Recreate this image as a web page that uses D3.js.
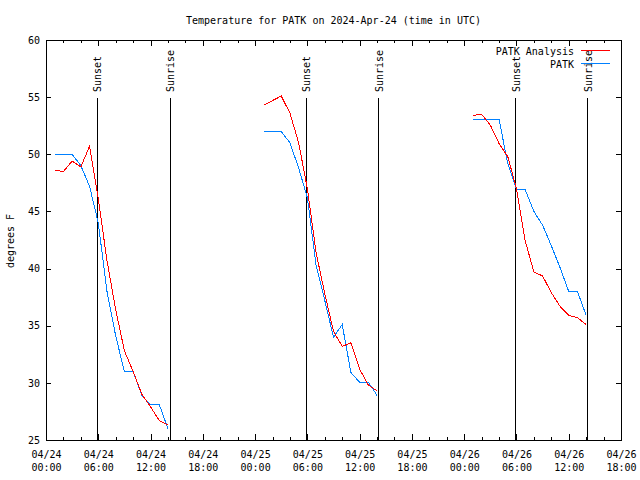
<!DOCTYPE html>
<html>
<head>
<meta charset="utf-8">
<script src="https://cdn.jsdelivr.net/npm/d3@7"></script>
<style>
  html, body { margin: 0; padding: 0; background: #fff; }
  svg { display: block; }
  text { font-family: "DejaVu Sans Mono", "Liberation Mono", monospace; font-size: 10px; fill: #000; }
</style>
</head>
<body>
<svg id="chart" width="640" height="480"></svg>
<script>
// ---- data (hours since 2024-04-24 00:00 UTC) ----
const day1Hours = [1,2,3,4,5,6,7,8,9,10,11,12,13,14];
const day2Hours = [25,26,27,28,29,30,31,32,33,34,35,36,37,38];
const day3Hours = [49,50,51,52,53,54,55,56,57,58,59,60,61,62];

const analysisDay1 = [48.6,48.5,49.4,48.9,50.7,46.1,40.7,36.4,32.8,31.0,29.0,27.9,26.7,26.3];
const analysisDay2 = [54.3,54.7,55.1,53.6,51.0,47.0,41.4,37.8,34.5,33.2,33.5,31.2,29.8,29.3];
const analysisDay3 = [53.4,53.5,52.55,50.95,49.8,47.0,42.45,39.7,39.35,37.9,36.7,35.9,35.7,35.1];

const obsDay1 = [50.0,50.0,50.0,49.0,47.2,44.0,38.0,34.1,31.0,31.0,28.9,28.1,28.1,26.0];
const obsDay2 = [52.0,52.0,52.0,51.0,48.8,46.2,40.3,37.2,34.0,35.1,30.9,30.05,30.05,28.9];
const obsDay3 = [53.06,53.06,53.06,53.06,49.2,46.9,46.9,45.0,43.8,42.0,40.1,38.0,38.0,35.9];

const sunsetHours = [5.82, 29.8, 53.85];
const sunriseHours = [14.23, 38.14, 62.1];

const yTicks = [25,30,35,40,45,50,55,60];
const xMajorHours = [0,6,12,18,24,30,36,42,48,54,60,66];
const xMinorHours = d3.range(0, 67, 2);

const seriesNames = ["PATK Analysis", "PATK"];
const seriesColors = ["#ff0000", "#0080ff"];
const titleText = "Temperature for PATK on 2024-Apr-24 (time in UTC)";
const yLabelText = "degrees F";

// ---- setup ----
const t0 = Date.UTC(2024, 3, 24, 0, 0);
const hr = h => new Date(t0 + h * 3600 * 1000);

const L = 46, R = 621, T = 40, B = 440;
const svg = d3.select("#chart");

const x = d3.scaleUtc().domain([hr(0), hr(66)]).range([L, R]);
const y = d3.scaleLinear().domain([25, 60]).range([B, T]);

// title
svg.append("text").attr("x", (L + R) / 2).attr("y", 23.5)
  .attr("text-anchor", "middle").text(titleText);

// y label
svg.append("text").attr("transform", `translate(13.5,241) rotate(-90)`)
  .attr("text-anchor", "middle").text(yLabelText);

// axes
const g = svg.append("g").attr("shape-rendering", "crispEdges");

// bottom major
const bottomAxis = g.append("g").attr("transform", `translate(0,${B})`)
  .call(d3.axisBottom(x).tickValues(xMajorHours.map(hr)).tickSize(-6).tickFormat(""));
bottomAxis.selectAll(".tick").each(function(d) {
  const t = d3.select(this).select("text");
  t.attr("y", null).attr("dy", null);
  t.append("tspan").attr("x", 0).attr("y", 18).text(d3.utcFormat("%m/%d")(d));
  t.append("tspan").attr("x", 0).attr("y", 31).text(d3.utcFormat("%H:%M")(d));
});
// bottom minor
g.append("g").attr("transform", `translate(0,${B})`)
  .call(d3.axisBottom(x).tickValues(xMinorHours.map(hr)).tickSize(-3).tickFormat(""));
// top major/minor
g.append("g").attr("transform", `translate(0,${T})`)
  .call(d3.axisTop(x).tickValues(xMajorHours.map(hr)).tickSize(-6).tickFormat(""));
g.append("g").attr("transform", `translate(0,${T})`)
  .call(d3.axisTop(x).tickValues(xMinorHours.map(hr)).tickSize(-3).tickFormat(""));
// left
g.append("g").attr("transform", `translate(${L},0)`)
  .call(d3.axisLeft(y).tickValues(yTicks).tickSize(-5).tickPadding(6).tickFormat(d3.format("d")));
// right
g.append("g").attr("transform", `translate(${R},0)`)
  .call(d3.axisRight(y).tickValues(yTicks).tickSize(-5).tickFormat(""));

svg.selectAll(".domain").remove();
svg.selectAll(".tick line").attr("stroke", "#000");
svg.selectAll(".tick text").attr("fill", "#000")
  .style("font-family", '"DejaVu Sans Mono", monospace').style("font-size", "10px");

// frame
g.append("rect").attr("x", L + 0.5).attr("y", T + 0.5)
  .attr("width", R - L).attr("height", B - T)
  .attr("fill", "none").attr("stroke", "#000");

// sun lines
const sunEvents = [];
sunsetHours.forEach(h => sunEvents.push({h, label: "Sunset"}));
sunriseHours.forEach(h => sunEvents.push({h, label: "Sunrise"}));
const sun = svg.append("g");
sun.selectAll("line").data(sunEvents).join("line")
  .attr("shape-rendering", "crispEdges")
  .attr("x1", d => Math.round(x(hr(d.h))) + 0.5).attr("x2", d => Math.round(x(hr(d.h))) + 0.5)
  .attr("y1", 98).attr("y2", B)
  .attr("stroke", "#000");
sun.selectAll("text").data(sunEvents).join("text")
  .attr("transform", d => `translate(${x(hr(d.h)) + 4.5},92) rotate(-90)`)
  .attr("text-anchor", "start").text(d => d.label);

// data lines
const line = d3.line().x(d => x(hr(d[0]))).y(d => y(d[1]));
const analysisSegs = [[day1Hours, analysisDay1], [day2Hours, analysisDay2], [day3Hours, analysisDay3]];
const obsSegs = [[day1Hours, obsDay1], [day2Hours, obsDay2], [day3Hours, obsDay3]];
const plot = svg.append("g").attr("fill", "none").attr("stroke-width", 1)
  .attr("shape-rendering", "crispEdges");
plot.selectAll("path.obs").data(obsSegs).join("path").attr("class", "obs")
  .attr("d", ([hs, vs]) => line(hs.map((h, i) => [h, vs[i]])))
  .attr("stroke", seriesColors[1]);
plot.selectAll("path.an").data(analysisSegs).join("path").attr("class", "an")
  .attr("d", ([hs, vs]) => line(hs.map((h, i) => [h, vs[i]])))
  .attr("stroke", seriesColors[0]);

// legend
const legend = svg.append("g");
seriesNames.forEach((name, i) => {
  const yy = 50 + i * 12.5;
  legend.append("text").attr("x", 574).attr("y", yy + 5).attr("text-anchor", "end").text(name);
  legend.append("line").attr("shape-rendering", "crispEdges")
    .attr("x1", 581).attr("x2", 610).attr("y1", Math.round(yy) + 0.5).attr("y2", Math.round(yy) + 0.5)
    .attr("stroke", seriesColors[i]);
});
</script>
</body>
</html>
